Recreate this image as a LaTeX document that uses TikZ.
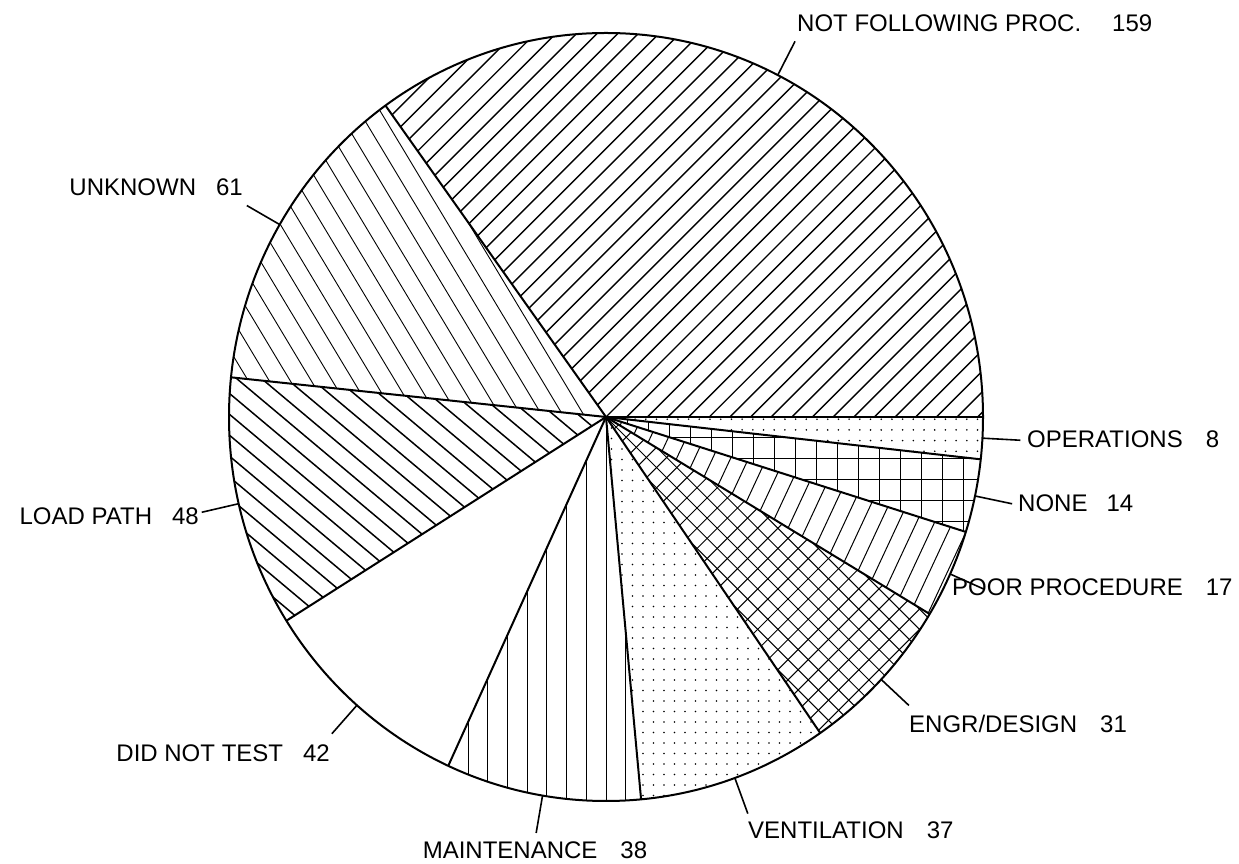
\documentclass[tikz,border=0pt]{standalone}
\usepackage{fontspec}
\setmainfont{Liberation Sans}
\usetikzlibrary{calc}
\newcommand\inslice[3]{\begin{scope}\clip (C) -- ++(#1:377 and 384) arc[start angle=#1, end angle=#2, x radius=377, y radius=384] -- cycle; #3\end{scope}}
\newcommand\hlines[3]{\begin{scope}[shift={(C)},rotate=#1]\foreach \k in {-32,...,32}{\draw[line width=#3] (-430,\k*#2) -- (430,\k*#2);}\end{scope}}
\begin{document}
\begin{tikzpicture}[x=1pt,y=1pt,
  outline/.style={line width=2pt, line join=round},
  leader/.style={line width=1.6pt},
  lbl/.style={inner sep=0pt, font=\fontsize{24}{28}\selectfont}]
\useasboundingbox (0,0) rectangle (1239,864);
\coordinate (C) at (606,447);
% hatching
\inslice{0}{125.80}{\hlines{45}{14.6}{1.4pt}}
\inslice{125.80}{174.07}{\hlines{-59}{18}{0.9pt}}
\inslice{174.07}{212.04}{\hlines{-40}{16}{1.5pt}}
\inslice{245.27}{275.34}{\hlines{90}{19.7}{0.9pt}}
\inslice{275.34}{304.62}{\foreach \xx in {601,611.5,...,840}{\foreach \yy in {58,68.5,...,450}{\fill (\xx,\yy) circle[radius=0.9];}}}
\inslice{304.62}{329.14}{\hlines{45}{14.3}{1pt}\hlines{-45}{14.3}{1pt}}
\inslice{329.14}{342.59}{\hlines{65}{16.3}{1pt}}
\inslice{342.59}{353.67}{\hlines{0}{21}{1pt}\hlines{90}{21}{1pt}}
\inslice{353.67}{360}{\foreach \xx in {603,613.7,...,990}{\foreach \yy in {402,412.7,...,450}{\fill (\xx,\yy) circle[radius=0.9];}}}
% boundaries
\foreach \a in {0,125.80,174.07,212.04,245.27,275.34,304.62,329.14,342.59,353.67}{\draw[outline] (C) -- ++(\a:377 and 384);}
\draw[outline] (C) ellipse[x radius=377, y radius=384];
% leader points
\foreach \n/\m in {NF/62.90,UN/149.93,LP/193.05,DT/228.65,MA/260.31,VE/289.98,EN/316.88,PO/335.87,NO/348.13,OP/356.84}{
  \path (C) ++(\m:377 and 384) coordinate (p\n);
  \path (C) ++(\m:415 and 422) coordinate (q\n);
  \draw[leader] (p\n) -- (q\n);}
% labels
\node[lbl, anchor=base west] (lNF) at (797,832) {NOT FOLLOWING PROC.\hspace{31pt}159};
\node[lbl, anchor=base east] (lUN) at (243,668) {UNKNOWN\hspace{20pt}61};
\node[lbl, anchor=east] (lLP) at (199,348) {LOAD PATH\hspace{20pt}48};
\node[lbl, anchor=base east] (lDT) at (330,102) {DID NOT TEST\hspace{20pt}42};
\node[lbl, anchor=base] (lMA) at (535,5) {MAINTENANCE\hspace{23pt}38};
\node[lbl, anchor=base west] (lVE) at (748,25) {VENTILATION\hspace{23pt}37};
\node[lbl, anchor=base west] (lEN) at (909,131) {ENGR/DESIGN\hspace{23pt}31};
\node[lbl, anchor=base west] (lPO) at (952,268) {POOR PROCEDURE\hspace{23pt}17};
\node[lbl, anchor=base west] (lNO) at (1018,352) {NONE\hspace{19pt}14};
\node[lbl, anchor=base west] (lOP) at (1027,416) {OPERATIONS\hspace{23pt}8};
\end{tikzpicture}
\end{document}
